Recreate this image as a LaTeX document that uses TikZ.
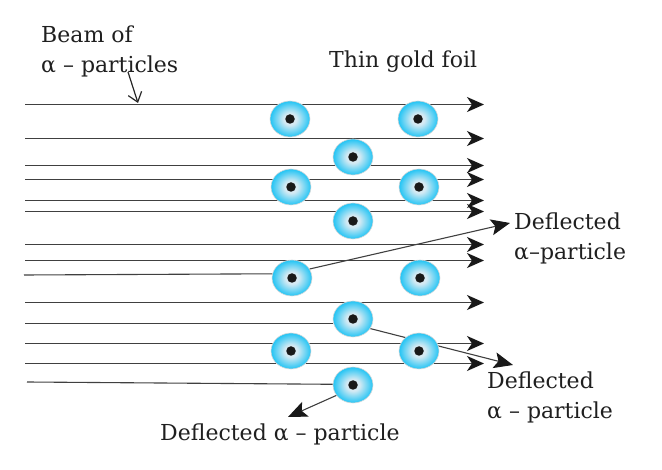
\documentclass[tikz,border=0pt]{standalone}
\usepackage{fontspec}
\usepackage{xcolor}
\setmainfont{DejaVu Serif}
\usetikzlibrary{arrows.meta}
\usetikzlibrary{shapes.geometric, backgrounds}
\definecolor{atomout}{HTML}{22C4F4}
\definecolor{atomin}{HTML}{D6EAF3}
\pgfdeclareradialshading{atomshade}{\pgfpoint{0bp}{0bp}}{color(0bp)=(atomin); color(8bp)=(atomin); color(25bp)=(atomout); color(50bp)=(atomout)}
\tikzset{
    atom/.style={ellipse, draw=black!15, line width=0.6pt, shading=atomshade, minimum width=40pt, minimum height=36pt, inner sep=0pt},
    nucleus/.style={circle, fill=black!90, minimum size=9.5pt, inner sep=0pt},
    ray/.style={black!75, line width=1.1pt},
    rayarrow/.style={ray, -{Stealth[length=17pt, width=15pt, inset=5pt, black!90]}},
    bigarrow/.style={ray, -{Stealth[length=19pt, width=16pt, inset=4pt, black!90]}},
    label/.style={anchor=base west, inner sep=0pt, text=black!88, font=\fontsize{22}{26}\selectfont}
}
\begin{document}
\begin{tikzpicture}[x=1pt, y=-1pt]
    \useasboundingbox (0,0) rectangle (662,470);

    % Atomes
    \foreach \name/\x/\y in {a/290/119, b/418/119, c/353/157, d/291/187, e/419/187, f/353/221, g/292/278, h/420/278, i/353/319, j/291/351, k/419/351, l/353/385} {
        \node[atom] (\name) at (\x,\y) {};
        \node[nucleus] (n\name) at (\x,\y) {};
    }

    % Faisceau
    \begin{scope}[on background layer, yshift=-0.5pt]
        \foreach \y in {104,138,165,179,200,211,244,260,302,343,363} {
            \coordinate (s\y) at (25,\y);
            \coordinate (t\y) at (484,\y);
            \draw[rayarrow] (s\y) -- (t\y);
        }
    \end{scope}

    % Particules deviees
    \coordinate (s1) at (24,275);
    \coordinate (t1) at (510,223);
    \coordinate (s2) at (25,323.5);
    \coordinate (t2) at (513,365);
    \coordinate (s3) at (27,382);
    \coordinate (t3) at (288,417);
    \draw[ray] (s1) -- (g.168);
    \draw[bigarrow] (g.27) -- (t1);
    \draw[ray] (s2) -- (i.west |- s2);
    \begin{scope}[on background layer]
        \draw[bigarrow] (i.-29) -- (t2);
    \end{scope}
    \draw[ray] (s3) -- (l.178);
    \draw[bigarrow] (l.212) -- (t3);

    % Textes
    \node[label] (beam) at (41,43) {Beam of};
    \node[label] (beamb) at (41,73) {α – particles};
    \node[label] (foil) at (329,68) {Thin gold foil};
    \node[label] (defa) at (514,230) {Deflected};
    \node[label] (defb) at (514,260) {α–particle};
    \node[label] (defc) at (487,389) {Deflected};
    \node[label] (defd) at (487,419) {α – particle};
    \node[label] (defe) at (160,441) {Deflected α – particle};

    % Fleche du faisceau
    \coordinate (p) at (128,72);
    \coordinate (q) at (138,103);
    \draw[black!85, line width=1.2pt, -{Straight Barb[length=9pt, width=14pt]}] (p) -- (q);
\end{tikzpicture}
\end{document}
